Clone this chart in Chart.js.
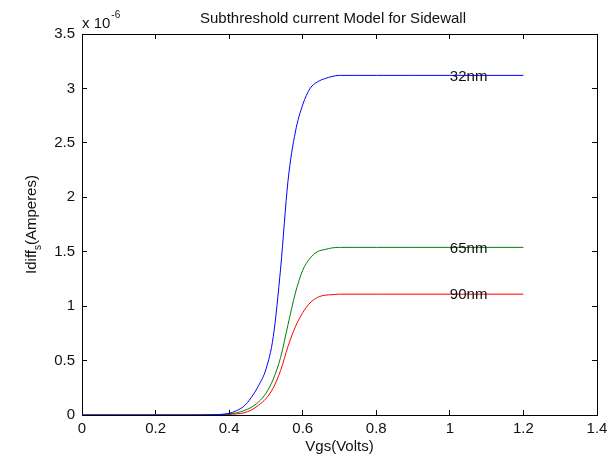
<!DOCTYPE html>
<html>
<head>
<meta charset="utf-8">
<script src="https://cdn.jsdelivr.net/npm/chart.js@4/dist/chart.umd.min.js"></script>
<style>
html, body { margin: 0; padding: 0; background: #fff; }
#wrap { width: 614px; height: 454px; }
</style>
</head>
<body>
<div id="wrap"><canvas id="chart"></canvas></div>
<script>
// Vgs in volts, currents in units of 1e-6 A (axis shows "x 10^-6")
const vgs = [0, 0.1, 0.2, 0.3, 0.35, 0.4, 0.42, 0.44, 0.46, 0.48, 0.5, 0.52, 0.54, 0.56, 0.58, 0.6,
             0.62, 0.64, 0.66, 0.68, 0.7, 0.75, 0.8, 0.9, 1.0, 1.1, 1.2];
const idiff32 = [0, 0, 0, 0, 0.002, 0.015, 0.04, 0.08, 0.16, 0.27, 0.42, 0.72, 1.35, 2.15, 2.6, 2.85,
                 3.0, 3.06, 3.09, 3.11, 3.12, 3.12, 3.12, 3.12, 3.12, 3.12, 3.12];
const idiff65 = [0, 0, 0, 0, 0.001, 0.01, 0.02, 0.04, 0.07, 0.12, 0.2, 0.33, 0.53, 0.83, 1.12, 1.33,
                 1.44, 1.5, 1.52, 1.535, 1.54, 1.54, 1.54, 1.54, 1.54, 1.54, 1.54];
const idiff90 = [0, 0, 0, 0, 0.001, 0.005, 0.01, 0.02, 0.045, 0.09, 0.15, 0.25, 0.41, 0.63, 0.81, 0.94,
                 1.03, 1.08, 1.1, 1.105, 1.11, 1.11, 1.11, 1.11, 1.11, 1.11, 1.11];
const xTicks = [0, 0.2, 0.4, 0.6, 0.8, 1, 1.2, 1.4];
const yTicks = [0, 0.5, 1, 1.5, 2, 2.5, 3, 3.5];
const seriesNames = ['32nm', '65nm', '90nm'];
const seriesColors = ['#0000ff', '#008000', '#ff0000'];
const labelAtVgs = 1.0;

const FONT = '"Liberation Sans", Arial, sans-serif';

function toPoints(ys) {
    return vgs.map((v, i) => ({ x: v, y: ys[i] }));
}

// MATLAB style frame: border on every side, short ticks pointing inwards
function frameAxis(position, ticks, showLabels, size) {
    const horizontal = position === 'top' || position === 'bottom';
    return {
        type: 'linear',
        position: position,
        display: true,
        min: 0,
        max: horizontal ? 1.4 : 3.5,
        afterFit: s => {
            if (horizontal) {
                s.height = size;
                s.paddingLeft = 0;
                s.paddingRight = 0;
            } else {
                s.width = size;
                s.paddingTop = 0;
                s.paddingBottom = 0;
            }
        },
        afterBuildTicks: s => { s.ticks = ticks.map(v => ({ value: v })); },
        grid: {
            display: true,
            drawOnChartArea: false,
            drawTicks: true,
            tickLength: -5,
            color: '#000',
            lineWidth: 1
        },
        border: { display: true, color: '#000', width: 1 },
        ticks: {
            display: showLabels,
            color: '#111',
            padding: horizontal ? 10 : 12,
            maxRotation: 0,
            font: { family: FONT, size: 15 },
            callback: v => String(+v.toFixed(1))
        }
    };
}

const textLayer = {
    id: 'textLayer',
    afterDraw(chart) {
        const ctx = chart.ctx;
        const area = chart.chartArea;
        const xs = chart.scales.x;
        const ys = chart.scales.y;
        ctx.save();

        // curve labels
        ctx.fillStyle = '#111';
        ctx.font = '15px ' + FONT;
        ctx.textAlign = 'left';
        ctx.textBaseline = 'middle';
        const lastVals = [idiff32, idiff65, idiff90].map(s => s[s.length - 1]);
        seriesNames.forEach((name, i) => {
            ctx.fillText(name, xs.getPixelForValue(labelAtVgs), ys.getPixelForValue(lastVals[i]) + 1);
        });

        // title
        ctx.textAlign = 'center';
        ctx.textBaseline = 'alphabetic';
        ctx.fillText('Subthreshold current Model for Sidewall', 333, 23);

        // x axis title
        ctx.fillText('Vgs(Volts)', (area.left + area.right) / 2, 451);

        // exponent
        ctx.textAlign = 'left';
        ctx.fillText('x 10', area.left, 28);
        const w = ctx.measureText('x 10').width;
        ctx.font = '10px ' + FONT;
        ctx.fillText('-6', area.left + w + 1, 18);

        // y axis title with subscript
        ctx.translate(36, (area.top + area.bottom) / 2);
        ctx.rotate(-Math.PI / 2);
        ctx.font = '15px ' + FONT;
        const p1 = 'Idiff', p2 = 's', p3 = '(Amperes)';
        const w1 = ctx.measureText(p1).width;
        ctx.font = '10px ' + FONT;
        const w2 = ctx.measureText(p2).width;
        ctx.font = '15px ' + FONT;
        const w3 = ctx.measureText(p3).width;
        const x0 = -(w1 + w2 + w3) / 2;
        ctx.fillText(p1, x0, 0);
        ctx.font = '10px ' + FONT;
        ctx.fillText(p2, x0 + w1, 5);
        ctx.font = '15px ' + FONT;
        ctx.fillText(p3, x0 + w1 + w2, 0);
        ctx.restore();
    }
};

const datasets = [idiff32, idiff65, idiff90].map((s, i) => ({
    label: seriesNames[i],
    data: toPoints(s),
    borderColor: seriesColors[i],
    borderWidth: 1,
    pointRadius: 0,
    fill: false,
    cubicInterpolationMode: 'monotone'
}));

new Chart(document.getElementById('chart'), {
    type: 'line',
    data: { datasets: datasets },
    options: {
        responsive: true,
        maintainAspectRatio: false,
        animation: false,
        layout: { padding: { left: 0, right: 17, top: 34, bottom: 0 } },
        plugins: {
            legend: { display: false },
            tooltip: { enabled: false }
        },
        scales: {
            x: frameAxis('bottom', xTicks, true, 39),
            y: frameAxis('left', yTicks, true, 82),
            x2: frameAxis('top', xTicks, false, 0),
            y2: frameAxis('right', yTicks, false, 0)
        }
    },
    plugins: [textLayer]
});
</script>
</body>
</html>
